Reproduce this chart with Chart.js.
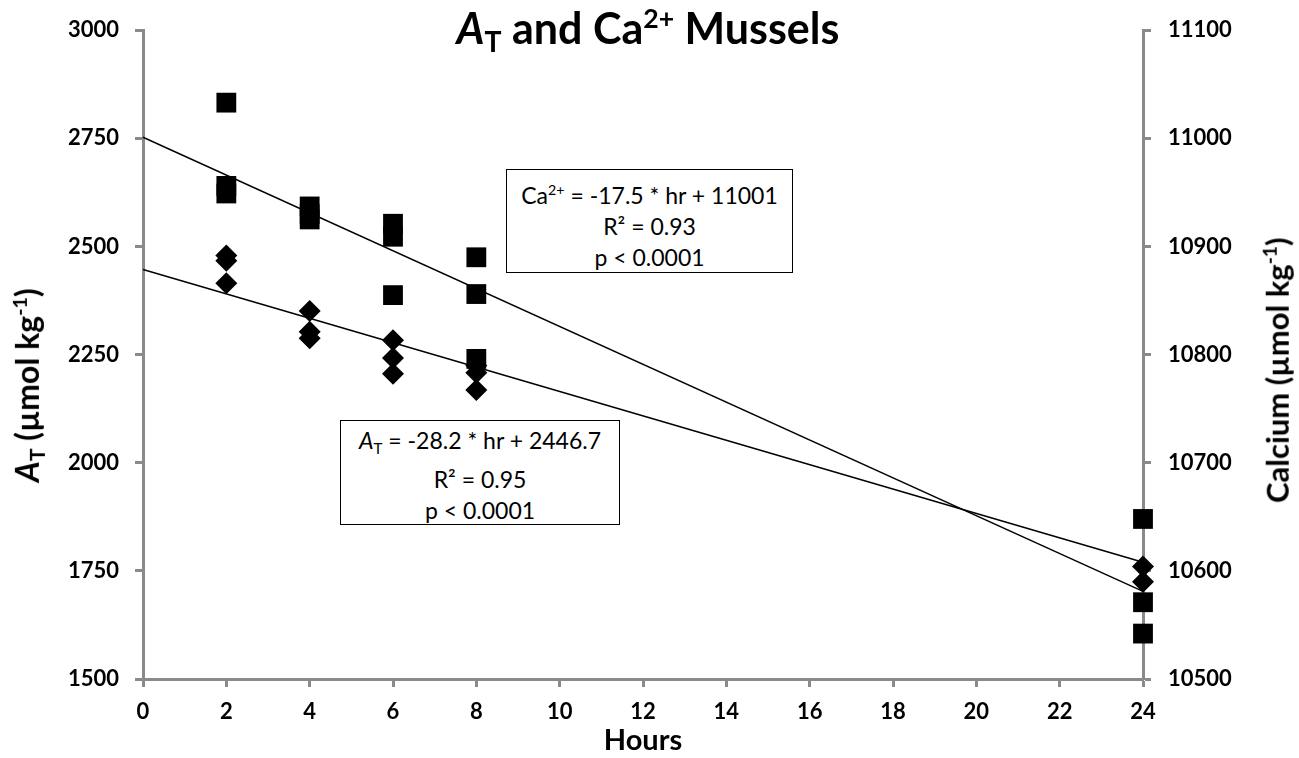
<!DOCTYPE html>
<html>
<head>
<meta charset="utf-8">
<script src="https://cdn.jsdelivr.net/npm/chart.js@4.4.0/dist/chart.umd.min.js"></script>
<style>
  html, body { margin: 0; padding: 0; background: #ffffff; }
  #wrap { position: relative; width: 1299px; height: 758px; font-family: Lato, "Open Sans", sans-serif; color: #000; }
  #c { position: absolute; left: 0; top: 0; }
  .ov { position: absolute; white-space: nowrap; }
  .sub { font-size: 66%; vertical-align: -0.3em; }
  .sup { font-size: 62%; vertical-align: 0.6em; }
  #title { left: 0; width: 1296px; top: -8px; text-align: center; font-size: 43px; font-weight: bold; line-height: 52px; }
  .ytitle { font-size: 31px; font-weight: bold; line-height: 36px; width: 360px; text-align: center; }
  #ylt { left: -152px; top: 358px; transform: rotate(-90deg); font-size: 32px; }
  #yrt { left: 1093px; top: 349px; transform: rotate(-90deg); }
  #xt { left: 143px; width: 1000px; top: 722px; text-align: center; font-size: 29px; font-weight: bold; line-height: 34px; }
  .box { border: 1.5px solid #000; background: #fff; text-align: center; font-size: 23px; line-height: 31px; padding-top: 4px; box-sizing: border-box; }
  #caBox { left: 506px; top: 169px; width: 287px; height: 104px; }
  #atBox { left: 340px; top: 420px; width: 280px; height: 105px; }
</style>
</head>
<body>
<div id="wrap">
  <canvas id="c" width="1299" height="758"></canvas>
  <div id="title" class="ov"><i>A</i><span class="sub">T</span> and Ca<span class="sup">2+</span> Mussels</div>
  <div id="ylt" class="ov ytitle"><i>A</i><span class="sub">T</span> (µmol kg<span class="sup">-1</span>)</div>
  <div id="yrt" class="ov ytitle">Calcium (µmol kg<span class="sup">-1</span>)</div>
  <div id="xt" class="ov">Hours</div>
  <div id="caBox" class="ov box">Ca<span class="sup">2+</span> = -17.5 * hr + 11001<br>R² = 0.93<br>p &lt; 0.0001</div>
  <div id="atBox" class="ov box"><i>A</i><span class="sub">T</span> = -28.2 * hr + 2446.7<br>R² = 0.95<br>p &lt; 0.0001</div>
</div>
<script>
// ---- data ----
const caHours = [2, 2, 2, 4, 4, 4, 6, 6, 6, 8, 8, 8, 24, 24, 24];
const caValues = [11033, 10956, 10949, 10937, 10930, 10925, 10921, 10909, 10855, 10890, 10856, 10796, 10648, 10571, 10542];
const atHours = [2, 2, 2, 4, 4, 4, 6, 6, 6, 8, 8, 8, 24, 24];
const atValues = [2479, 2467, 2415, 2351, 2303, 2288, 2283, 2242, 2206, 2225, 2208, 2168, 1760, 1725];
const fitHours = [0, 24];
const caFit = [11001, 10581];
const atFit = [2446.7, 1769.9];
const xTicks = [0, 2, 4, 6, 8, 10, 12, 14, 16, 18, 20, 22, 24];
const leftTicks = [1500, 1750, 2000, 2250, 2500, 2750, 3000];
const rightTicks = [10500, 10600, 10700, 10800, 10900, 11000, 11100];

const pts = (xs, ys) => xs.map((x, i) => ({ x: x, y: ys[i] }));
const AXIS = '#8a8a8a';
const tickFont = { family: 'Lato, "Open Sans", sans-serif', size: 22, weight: 'bold' };
const plain = v => String(v);

new Chart(document.getElementById('c'), {
  type: 'scatter',
  data: {
    datasets: [
      { label: 'Ca fit', type: 'line', data: pts(fitHours, caFit), yAxisID: 'y1', borderColor: '#000', borderWidth: 1.4, pointRadius: 0, fill: false, tension: 0, clip: false, order: 1 },
      { label: 'AT fit', type: 'line', data: pts(fitHours, atFit), yAxisID: 'y', borderColor: '#000', borderWidth: 1.4, pointRadius: 0, fill: false, tension: 0, clip: false, order: 1 },
      { label: 'Ca2+', data: pts(caHours, caValues), yAxisID: 'y1', pointStyle: 'rect', pointRadius: 14, pointHoverRadius: 14, backgroundColor: '#000', borderColor: '#000', borderWidth: 0, clip: false, order: 2 },
      { label: 'AT', data: pts(atHours, atValues), yAxisID: 'y', pointStyle: 'rectRot', pointRadius: 11, pointHoverRadius: 11, backgroundColor: '#000', borderColor: '#000', borderWidth: 0, clip: false, order: 2 }
    ]
  },
  options: {
    responsive: false,
    animation: false,
    events: [],
    layout: { padding: { top: 20, left: 0, right: 0, bottom: 0 } },
    plugins: { legend: { display: false }, title: { display: false }, tooltip: { enabled: false } },
    scales: {
      x: {
        type: 'linear', min: 0, max: 24,
        afterBuildTicks: s => { s.ticks = xTicks.map(v => ({ value: v })); },
        afterFit: s => { s.height = 79; },
        grid: { display: true, drawOnChartArea: false, drawTicks: true, tickLength: 8, color: AXIS, tickWidth: 3 },
        border: { display: true, color: AXIS, width: 3 },
        ticks: { color: '#000', font: tickFont, padding: 12, maxRotation: 0, callback: plain }
      },
      y: {
        type: 'linear', position: 'left', min: 1500, max: 3000,
        afterBuildTicks: s => { s.ticks = leftTicks.map(v => ({ value: v })); },
        afterFit: s => { s.width = 143; },
        grid: { display: true, drawOnChartArea: false, drawTicks: true, tickLength: 8, color: AXIS, tickWidth: 3 },
        border: { display: true, color: AXIS, width: 3 },
        ticks: { color: '#000', font: tickFont, padding: 16, callback: plain }
      },
      y1: {
        type: 'linear', position: 'right', min: 10500, max: 11100,
        afterBuildTicks: s => { s.ticks = rightTicks.map(v => ({ value: v })); },
        afterFit: s => { s.width = 156; },
        grid: { display: true, drawOnChartArea: false, drawTicks: true, tickLength: 8, color: AXIS, tickWidth: 3 },
        border: { display: true, color: AXIS, width: 3 },
        ticks: { color: '#000', font: tickFont, padding: 17, callback: plain }
      }
    }
  }
});
</script>
</body>
</html>
